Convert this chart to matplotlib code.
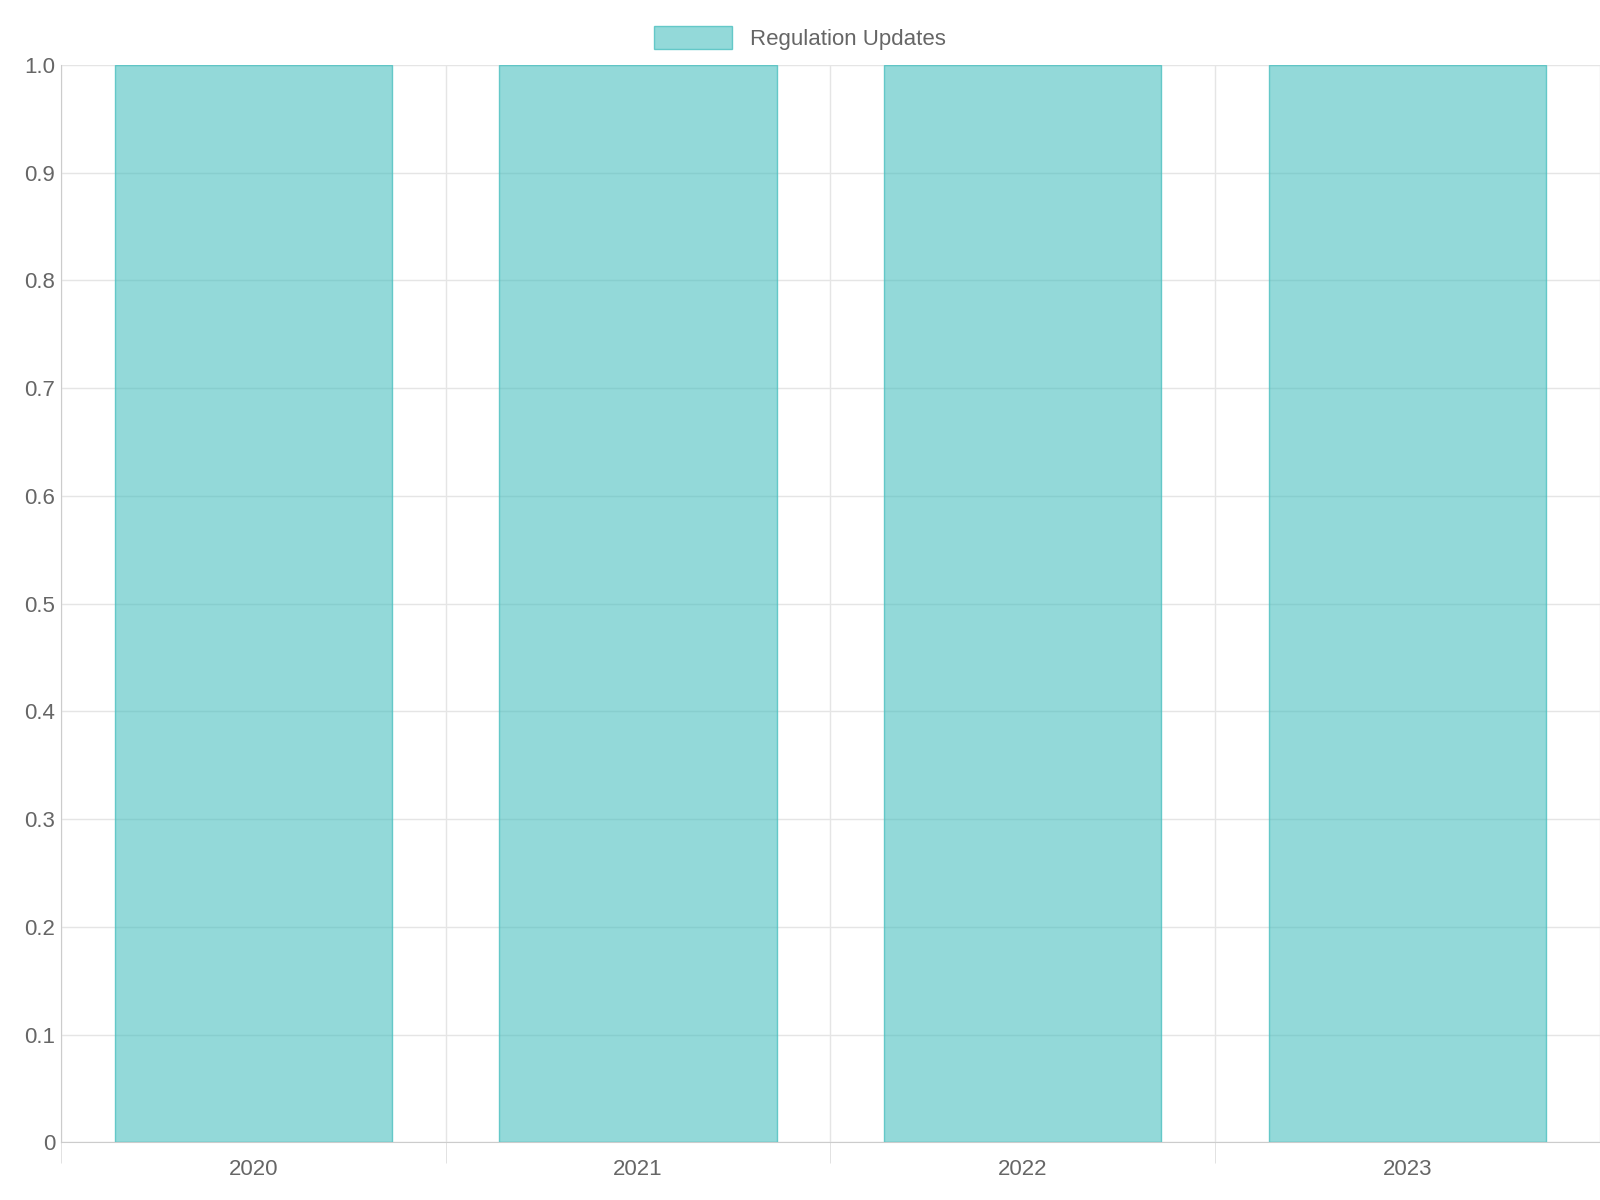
import matplotlib
matplotlib.use("Agg")
import matplotlib.pyplot as plt
from matplotlib.patches import Patch

years = ["2020", "2021", "2022", "2023"]
updates = [1, 1, 1, 1]
series_name = "Regulation Updates"

plt.rcParams['font.family'] = ['Liberation Sans', 'DejaVu Sans']
fig = plt.figure(figsize=(16, 12), dpi=100)
ax = fig.add_axes([0.038, 0.048, 0.962, 0.898])
x = list(range(len(years)))
ax.bar(x, updates, width=0.72, color=(75/255, 192/255, 192/255, 0.6),
       edgecolor=(75/255, 192/255, 192/255, 0.8), linewidth=1, zorder=3)
ax.set_xlim(-0.5, len(years) - 0.5)
ax.set_ylim(0, 1.0)
ax.set_yticks([i / 10 for i in range(11)])
ax.set_yticklabels(["0"] + [f"{i/10:.1f}" for i in range(1, 11)])
ax.set_xticks(x)
ax.set_xticklabels(years)
ax.set_xticks([i - 0.5 for i in range(len(years) + 1)], minor=True)
ax.tick_params(axis='x', which='major', length=0, pad=12, labelsize=16, labelcolor='#666666')
ax.tick_params(axis='x', which='minor', length=15, color='#dddddd')
ax.tick_params(axis='y', length=0, pad=4, labelsize=16, labelcolor='#666666')
ax.grid(axis='y', color='#e5e5e5', linewidth=1, zorder=0)
ax.grid(axis='x', which='minor', color='#e5e5e5', linewidth=1, zorder=0)
for s in ['top', 'right']:
    ax.spines[s].set_visible(False)
for s in ['left', 'bottom']:
    ax.spines[s].set_color('#cccccc')
fig.legend(handles=[Patch(facecolor=(75/255, 192/255, 192/255, 0.6),
                          edgecolor=(75/255, 192/255, 192/255, 0.8))],
           labels=[series_name], loc='upper center', bbox_to_anchor=(0.5, 0.995),
           frameon=False, fontsize=16, labelcolor='#666666',
           handlelength=3.5, handleheight=1.2)
fig.savefig("out.png", dpi=100)
